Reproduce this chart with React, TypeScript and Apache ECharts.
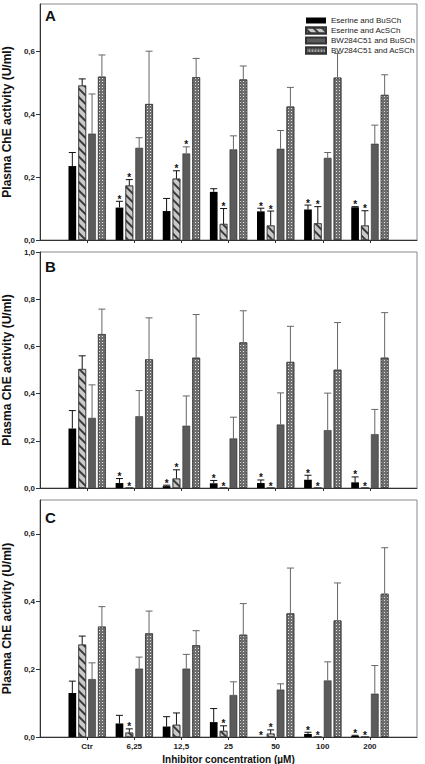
import React, { useEffect, useRef } from "react";
import * as echarts from "echarts";

const categories = ["Ctr", "6,25", "12,5", "25", "50", "100", "200"];
const seriesNames = [
  "Eserine and BuSCh",
  "Eserine and AcSCh",
  "BW284C51 and BuSCh",
  "BW284C51 and AcSCh",
];

// Panel A
const aEseBu = [0.235, 0.103, 0.092, 0.153, 0.091, 0.097, 0.104];
const aEseBuErr = [0.278, 0.123, 0.132, 0.163, 0.101, 0.111, 0.106];
const aEseBuStar = [0, 1, 0, 0, 1, 1, 1];
const aEseAc = [0.491, 0.173, 0.195, 0.051, 0.046, 0.053, 0.046];
const aEseAcErr = [0.512, 0.192, 0.22, 0.1, 0.092, 0.106, 0.093];
const aEseAcStar = [0, 1, 1, 1, 1, 1, 1];
const aBwBu = [0.338, 0.293, 0.275, 0.288, 0.29, 0.261, 0.306];
const aBwBuErr = [0.464, 0.325, 0.296, 0.331, 0.348, 0.278, 0.365];
const aBwBuStar = [0, 0, 1, 0, 0, 0, 0];
const aBwAc = [0.519, 0.432, 0.517, 0.51, 0.424, 0.516, 0.461];
const aBwAcErr = [0.588, 0.6, 0.577, 0.553, 0.485, 0.593, 0.525];
const aBwAcStar = [0, 0, 0, 0, 0, 0, 0];

// Panel B
const bEseBu = [0.252, 0.021, 0.008, 0.02, 0.021, 0.035, 0.024];
const bEseBuErr = [0.328, 0.04, 0.012, 0.032, 0.034, 0.054, 0.047];
const bEseBuStar = [0, 1, 1, 1, 1, 1, 1];
const bEseAc = [0.504, 0, 0.04, 0, 0, 0, 0];
const bEseAcErr = [0.56, 0, 0.077, 0, 0, 0, 0];
const bEseAcStar = [0, 1, 1, 1, 1, 1, 1];
const bBwBu = [0.297, 0.304, 0.264, 0.21, 0.269, 0.245, 0.228];
const bBwBuErr = [0.437, 0.413, 0.39, 0.3, 0.403, 0.402, 0.333];
const bBwBuStar = [0, 0, 0, 0, 0, 0, 0];
const bBwAc = [0.652, 0.545, 0.552, 0.617, 0.534, 0.501, 0.552];
const bBwAcErr = [0.758, 0.721, 0.735, 0.751, 0.685, 0.701, 0.743];
const bBwAcStar = [0, 0, 0, 0, 0, 0, 0];

// Panel C
const cEseBu = [0.13, 0.04, 0.031, 0.044, 0, 0.009, 0.003];
const cEseBuErr = [0.165, 0.064, 0.06, 0.084, 0, 0.014, 0.005];
const cEseBuStar = [0, 0, 0, 0, 1, 1, 1];
const cEseAc = [0.273, 0.013, 0.036, 0.018, 0.01, 0, 0];
const cEseAcErr = [0.298, 0.024, 0.071, 0.033, 0.021, 0, 0];
const cEseAcStar = [0, 1, 0, 1, 1, 1, 1];
const cBwBu = [0.171, 0.202, 0.202, 0.124, 0.14, 0.167, 0.128];
const cBwBuErr = [0.219, 0.236, 0.244, 0.163, 0.157, 0.222, 0.211];
const cBwBuStar = [0, 0, 0, 0, 0, 0, 0];
const cBwAc = [0.326, 0.306, 0.271, 0.302, 0.365, 0.344, 0.423];
const cBwAcErr = [0.385, 0.372, 0.314, 0.394, 0.499, 0.455, 0.559];
const cBwAcStar = [0, 0, 0, 0, 0, 0, 0];

const yMax = [0.75, 1.0, 0.7];
const yTicks = [
  [0, 0.2, 0.4, 0.6],
  [0, 0.2, 0.4, 0.6, 0.8, 1.0],
  [0, 0.2, 0.4, 0.6],
];

const FONT = "'Liberation Sans', Arial, sans-serif";
const BAR_W = 7.7;
const BAR_GAP = 0.28;

const barStyles = [
  { color: "#000000", borderColor: "#000000", borderWidth: 0 },
  {
    color: "#c9c9c9",
    borderColor: "#333333",
    borderWidth: 0.6,
    decal: {
      symbol: "rect",
      symbolSize: 1,
      color: "#3a3a3a",
      dashArrayX: [1, 0],
      dashArrayY: [1.3, 3.2],
      rotation: Math.PI / 4,
    },
  },
  { color: "#5b5b5b", borderColor: "#333333", borderWidth: 0.6 },
  {
    color: "#6e6e6e",
    borderColor: "#333333",
    borderWidth: 0.6,
    decal: {
      symbol: "rect",
      symbolSize: 1,
      color: "rgba(235,235,235,0.9)",
      dashArrayX: [1, 2],
      dashArrayY: [1, 2],
      rotation: 0,
    },
  },
];

const errColors = ["#111111", "#111111", "#666666", "#666666"];

export default function App() {
  const ref = useRef<HTMLDivElement>(null);

  useEffect(() => {
    if (!ref.current) return;
    const chart = echarts.init(ref.current, null, { renderer: "svg" });

    const panels = [
      {
        vals: [aEseBu, aEseAc, aBwBu, aBwAc],
        errs: [aEseBuErr, aEseAcErr, aBwBuErr, aBwAcErr],
        stars: [aEseBuStar, aEseAcStar, aBwBuStar, aBwAcStar],
      },
      {
        vals: [bEseBu, bEseAc, bBwBu, bBwAc],
        errs: [bEseBuErr, bEseAcErr, bBwBuErr, bBwAcErr],
        stars: [bEseBuStar, bEseAcStar, bBwBuStar, bBwAcStar],
      },
      {
        vals: [cEseBu, cEseAc, cBwBu, cBwAc],
        errs: [cEseBuErr, cEseAcErr, cBwBuErr, cBwAcErr],
        stars: [cEseBuStar, cEseAcStar, cBwBuStar, cBwAcStar],
      },
    ];

    const gridTops = [4, 252, 500];
    const gridHeights = [236, 236, 237];
    const xCats = ["", ...categories, ""];

    const grids = gridTops.map((t, i) => ({
      left: 40,
      top: t,
      width: 377,
      height: gridHeights[i],
      show: true,
      borderColor: "#8a8a8a",
      borderWidth: 1,
      backgroundColor: "transparent",
      containLabel: false,
      outerBoundsMode: "none",
    }));

    const xAxes = panels.map((_, i) => ({
      type: "category",
      gridIndex: i,
      data: xCats,
      boundaryGap: false,
      axisLine: { show: true, lineStyle: { color: "#333", width: 1 } },
      axisTick: {
        show: true,
        length: 3,
        lineStyle: { color: "#333" },
        interval: (idx: number) => idx > 0 && idx < xCats.length - 1,
      },
      axisLabel: {
        show: i === 2,
        fontSize: 8,
        fontWeight: "bold",
        color: "#222",
        fontFamily: FONT,
        margin: 5,
        interval: 0,
      },
      name: i === 2 ? "Inhibitor concentration (µM)" : "",
      nameLocation: "middle",
      nameGap: 17,
      nameTextStyle: { fontSize: 10, fontWeight: "bold", color: "#111", fontFamily: FONT },
      splitLine: { show: false },
    }));

    const yAxes = panels.map((_, i) => ({
      type: "value",
      gridIndex: i,
      min: 0,
      max: yMax[i],
      interval: 0.2,
      axisLine: { show: true, lineStyle: { color: "#333", width: 1 } },
      axisTick: {
        show: true,
        length: 4,
        lineStyle: { color: "#333" },
        customValues: yTicks[i],
      },
      axisLabel: {
        fontSize: 8,
        fontWeight: "bold",
        color: "#222",
        fontFamily: FONT,
        margin: 5,
        customValues: yTicks[i],
        formatter: (v: number) => v.toFixed(1).replace(".", ","),
      },
      splitLine: { show: false },
      name: "Plasma ChE activity (U/ml)",
      nameLocation: "middle",
      nameRotate: 90,
      nameGap: 27,
      nameTextStyle: { fontSize: 12, fontWeight: "bold", color: "#111", fontFamily: FONT },
    }));

    const series: any[] = [];
    panels.forEach((p, pi) => {
      p.vals.forEach((vals, k) => {
        series.push({
          type: "bar",
          name: seriesNames[k],
          xAxisIndex: pi,
          yAxisIndex: pi,
          barWidth: BAR_W,
          barGap: `${BAR_GAP * 100}%`,
          data: vals.map((v, j) => [j + 1, v]),
          itemStyle: barStyles[k],
          emphasis: { disabled: true },
          silent: true,
        });
      });
    });
    panels.forEach((p, pi) => {
      p.vals.forEach((vals, k) => {
        const offset = (k - 1.5) * BAR_W * (1 + BAR_GAP);
        const col = errColors[k];
        series.push({
          type: "custom",
          name: `err-${pi}-${k}`,
          xAxisIndex: pi,
          yAxisIndex: pi,
          silent: true,
          clip: false,
          z: 5,
          itemStyle: { color: "#111111" },
          data: vals.map((v, j) => [j + 1, v, p.errs[k][j], p.stars[k][j]]),
          renderItem: (params: any, api: any) => {
            const x = api.value(0);
            const v = api.value(1);
            const e = api.value(2);
            const s = api.value(3);
            const base = api.coord([x, v]);
            const top = api.coord([x, Math.max(e, v)]);
            const cx = base[0] + offset;
            const children: any[] = [];
            if (e > v) {
              children.push({
                type: "line",
                shape: { x1: cx, y1: base[1], x2: cx, y2: top[1] },
                style: { stroke: col, lineWidth: 1, fill: null },
              });
              children.push({
                type: "line",
                shape: { x1: cx - 3.5, y1: top[1], x2: cx + 3.5, y2: top[1] },
                style: { stroke: col, lineWidth: 1, fill: null },
              });
            }
            if (s) {
              children.push({
                type: "text",
                x: cx,
                y: top[1] - 2,
                style: {
                  text: "*",
                  fontSize: 10,
                  fontWeight: "bold",
                  fontFamily: FONT,
                  fill: "#111111",
                  align: "center",
                  verticalAlign: "middle",
                },
              });
            }
            return { type: "group", children };
          },
        });
      });
    });

    chart.setOption({
      animation: false,
      backgroundColor: "#ffffff",
      grid: grids,
      xAxis: xAxes,
      yAxis: yAxes,
      legend: {
        data: seriesNames,
        orient: "vertical",
        left: 300,
        top: 11,
        itemWidth: 20,
        itemHeight: 6,
        itemGap: 1,
        icon: "rect",
        selectedMode: false,
        textStyle: { fontSize: 8, color: "#222", fontFamily: FONT, lineHeight: 9 },
      },
      graphic: [
        { type: "text", left: 45, top: 8, style: { text: "A", fontSize: 15, fontWeight: "bold", fontFamily: FONT, fill: "#111" } },
        { type: "text", left: 45, top: 259, style: { text: "B", fontSize: 15, fontWeight: "bold", fontFamily: FONT, fill: "#111" } },
        { type: "text", left: 45, top: 510, style: { text: "C", fontSize: 15, fontWeight: "bold", fontFamily: FONT, fill: "#111" } },
      ],
      series,
    });

    return () => chart.dispose();
  }, []);

  return (
    <div
      ref={ref}
      style={{ position: "absolute", left: 0, top: 0, width: 425, height: 764 }}
    />
  );
}
